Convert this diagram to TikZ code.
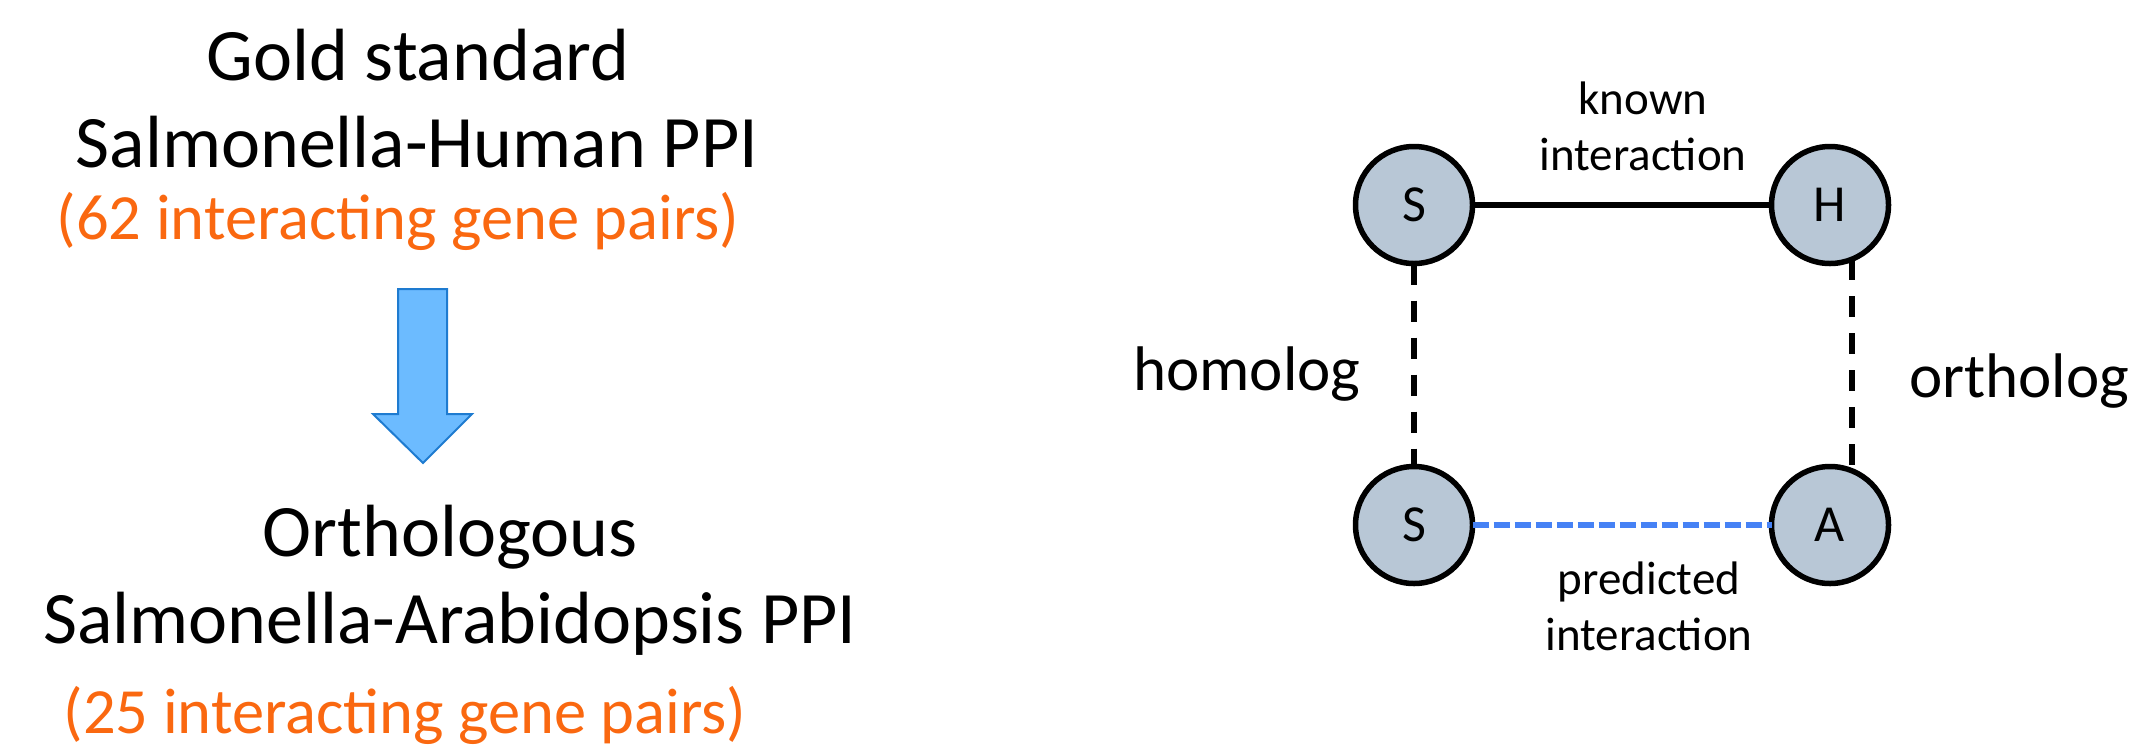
\documentclass[tikz,border=0pt]{standalone}
\usepackage{fontspec}
\setmainfont{Carlito}
\definecolor{orangetxt}{RGB}{250,104,16}
\definecolor{nodefill}{RGB}{184,199,214}
\definecolor{arrowfill}{RGB}{108,187,255}
\definecolor{arrowline}{RGB}{30,123,208}
\definecolor{predblue}{RGB}{70,130,245}
\tikzset{
  big/.style={font=\fontsize{74}{74}\selectfont, inner sep=0pt, anchor=base},
  count/.style={font=\fontsize{64.5}{64.5}\selectfont, inner sep=0pt, anchor=base, text=orangetxt},
  edgelbl/.style={font=\fontsize{47}{47}\selectfont, inner sep=0pt, anchor=base},
  sidelbl/.style={font=\fontsize{63}{63}\selectfont, inner sep=0pt, anchor=base west},
  gene/.style={circle, draw=black, line width=5.5pt, fill=nodefill, minimum size=117pt, inner sep=0pt, outer sep=0pt, font=\fontsize{52}{52}\selectfont},
  homline/.style={line width=6pt, dash pattern=on 21pt off 16pt},
  predline/.style={line width=6pt, draw=predblue, dash pattern=on 16pt off 5pt},
  knownline/.style={line width=5.5pt}
}
\begin{document}
\begin{tikzpicture}[x=1pt,y=-1pt]
\useasboundingbox (0,0) rectangle (2131,748);
% left column
\node[big] (gold) at (418,80) {Gold standard};
\node[big] (sh) at (417,167) {Salmonella-Human PPI};
\node[count] (c62) at (398,239) {(62 interacting gene pairs)};
\draw[fill=arrowfill, draw=arrowline, line width=2pt, line join=miter]
  (398,289) -- (447,289) -- (447,414) -- (472,414) -- (423,463) -- (373,414) -- (398,414) -- cycle;
\node[big] (orth) at (450,556) {Orthologous};
\node[big] (sa) at (450,643) {Salmonella-Arabidopsis PPI};
\node[count] (c25) at (405,733) {(25 interacting gene pairs)};
% right diagram
\node[gene] (S1) at (1414,205) {S};
\node[gene] (H) at (1830,205) {H};
\node[gene] (S2) at (1414,525) {S};
\node[gene] (A) at (1830,525) {A};
\draw[knownline] (S1.east) -- (H.west);
\draw[homline] (S1.south) -- (S2.north);
\draw[homline] (H.-68) -- (A.68);
\draw[predline] (S2.east) -- (A.west);
\node[edgelbl] (kn) at (1643,114) {known};
\node[edgelbl] (ki) at (1643,170) {interaction};
\node[edgelbl] (pr) at (1649,594) {predicted};
\node[edgelbl] (pi) at (1649,650) {interaction};
\node[sidelbl] (hom) at (1133,390) {homolog};
\node[sidelbl] (ort) at (1909,397) {ortholog};
\end{tikzpicture}
\end{document}
